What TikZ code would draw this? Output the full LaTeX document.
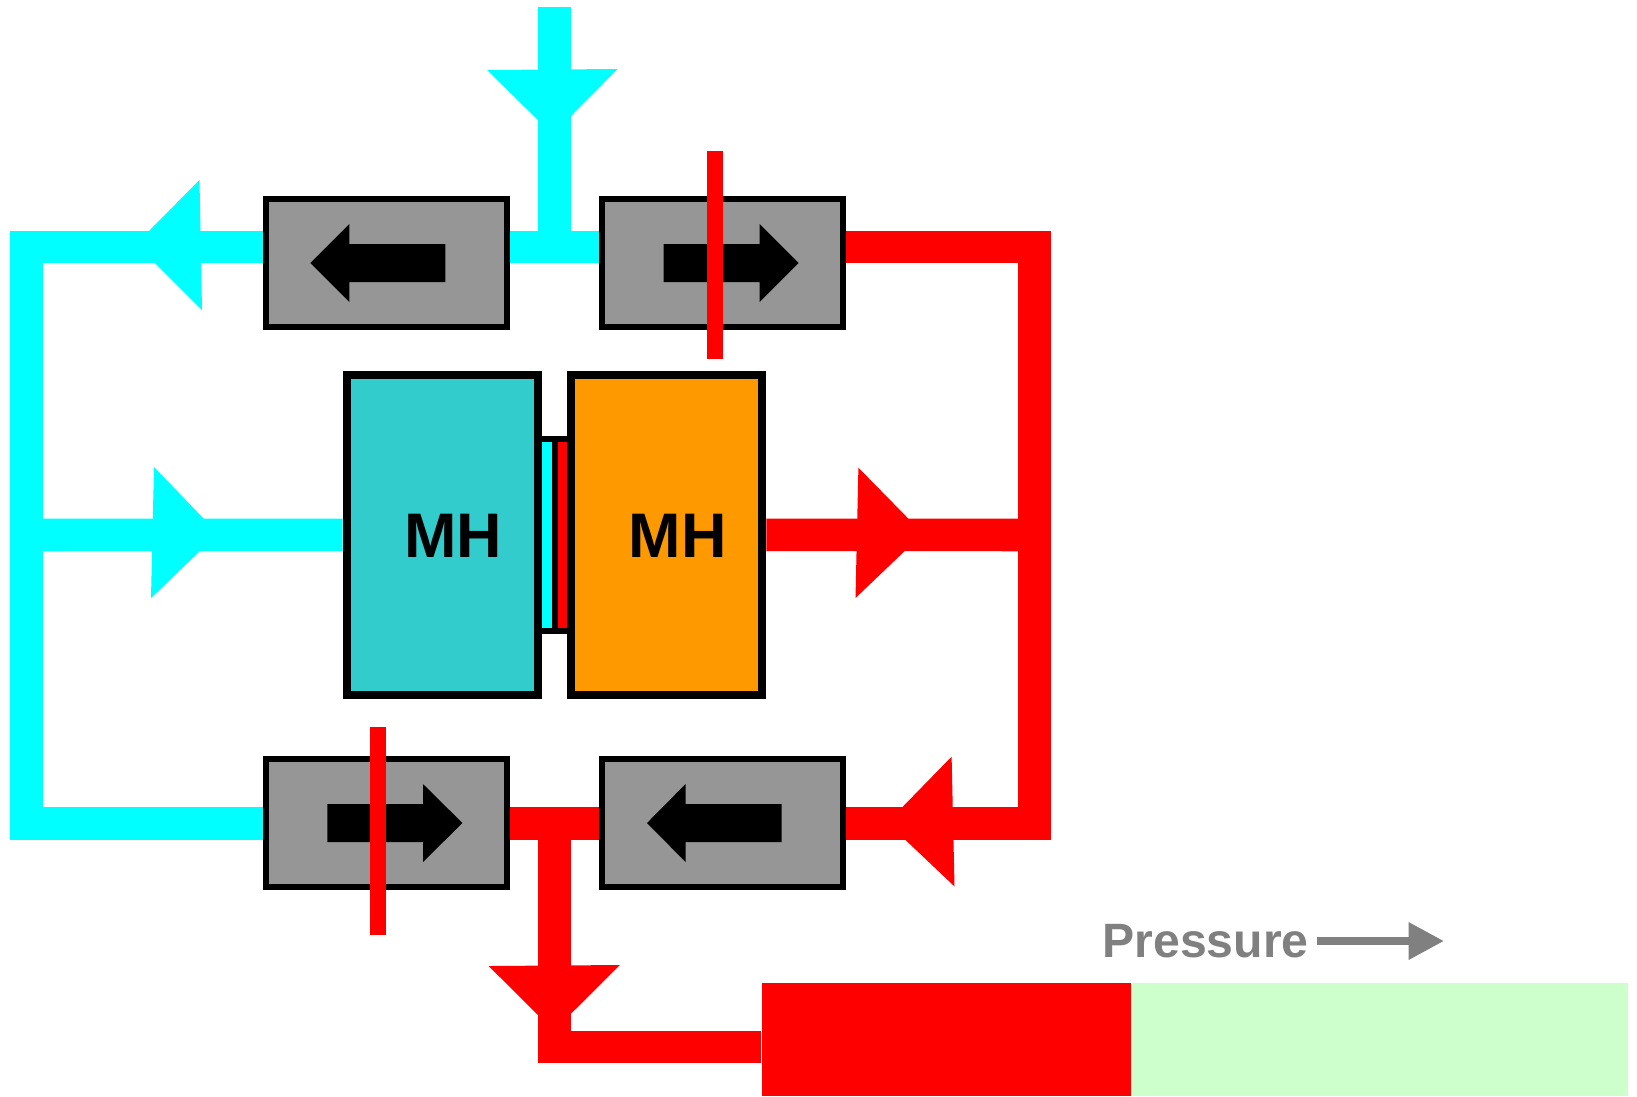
\documentclass[tikz,border=0pt]{standalone}
\usepackage{fontspec}
\setmainfont{Liberation Sans}
\usetikzlibrary{arrows.meta}
\definecolor{pipeCyan}{RGB}{0,255,255}
\definecolor{mhTeal}{HTML}{33CCCC}
\definecolor{mhOrange}{HTML}{FF9900}
\definecolor{valveGray}{HTML}{969696}
\definecolor{scaleGreen}{HTML}{CCFFCC}
\definecolor{pressGray}{HTML}{808080}
\begin{document}
\begin{tikzpicture}[x=0.01cm,y=-0.01cm,
    mhValve/.style={draw=black,fill=valveGray,line width=0.06cm,minimum width=2.404cm,minimum height=1.28cm,inner sep=0pt},
    mhBed/.style={draw=black,line width=0.08cm,minimum width=1.916cm,minimum height=3.195cm,inner sep=0pt},
    mhLabel/.style={inner sep=0pt,font=\bfseries\fontsize{17.9pt}{20pt}\selectfont},
    mhCold/.style={pipeCyan,line width=0.325cm,miter limit=10},
    mhHot/.style={red,line width=0.325cm,miter limit=10},
    mhBar/.style={red,line width=0.16cm},
    mhPress/.style={pressGray,line width=0.08cm,-{Triangle[length=0.353cm,width=0.354cm]}},
]
\useasboundingbox (0,0) rectangle (1637,1096);
% Valves
\node[mhValve] (valveTL) at (386.3,263) {};
\node[mhValve] (valveTR) at (722.5,263) {};
\node[mhValve] (valveBL) at (386.3,823) {};
\node[mhValve] (valveBR) at (722.5,823) {};
% Membrane between the beds
\fill[black] (541,436) rectangle (567,634);
\fill[pipeCyan] (541,442) rectangle (551.7,628);
\fill[red] (557.7,442) rectangle (567,628);
% Metal hydride beds
\node[mhBed,fill=mhTeal] (bedCold) at (442.5,534.75) {};
\node[mhBed,fill=mhOrange] (bedHot) at (666.5,534.75) {};
\node[mhLabel] (labelCold) at (453.5,535.5) {MH};
\node[mhLabel] (labelHot) at (677.5,535.5) {MH};
% Corners of the pipes
\coordinate (coldIn) at (554.5,7);
\coordinate (coldTee) at (554.5,247);
\coordinate (coldTL) at (26.4,247);
\coordinate (coldBL) at (26.4,823.5);
\coordinate (coldMid) at (26.4,535);
\coordinate (hotTR) at (1034.5,247);
\coordinate (hotBR) at (1034.5,823.5);
\coordinate (hotMid) at (1034.5,535);
\coordinate (hotTee) at (554.5,823.5);
\coordinate (hotLow) at (554.5,1047);
% Cold side
\draw[mhCold] (valveTL.east |- coldTee) -- (valveTR.west |- coldTee);
\draw[mhCold] (coldIn) -- (coldTee);
\draw[mhCold] (valveTL.west |- coldTL) -- (coldTL) -- (coldBL) -- (valveBL.west |- coldBL);
\draw[mhCold] (bedCold.west) -- (coldMid);
% Hot side
\draw[mhHot] (valveTR.east |- hotTR) -- (hotTR) -- (hotBR) -- (valveBR.east |- hotBR);
\draw[mhHot] (bedHot.east) -- (hotMid);
\draw[mhHot] (valveBL.east |- hotTee) -- (valveBR.west |- hotTee);
% Flow arrows
\fill[pipeCyan] (487,70) -- (617.6,69) -- (571,116) -- (538,120) -- cycle;
\fill[pipeCyan] (199.5,180) -- (202,310) -- (154,262) -- (149,231) -- cycle;
\fill[pipeCyan] (154,467) -- (151,598) -- (200,551) -- (204,519) -- cycle;
\fill[red] (858.4,467.7) -- (855.5,598) -- (904.7,551) -- (908.7,519) -- cycle;
\fill[red] (951.6,756.6) -- (954.5,886.4) -- (905,839.5) -- (902,807.5) -- cycle;
% Arrows inside the valves
\fill[black] (310.4,263) -- (349.4,224) -- (349.4,244) -- (445.4,244) -- (445.4,282) -- (349.4,282) -- (349.4,302) -- cycle;
\fill[black] (798.6,263) -- (759.6,224) -- (759.6,244) -- (663.7,244) -- (663.7,282) -- (759.6,282) -- (759.6,302) -- cycle;
\fill[black] (462.4,823) -- (423,784) -- (423,804) -- (327.4,804) -- (327.4,842) -- (423,842) -- (423,862) -- cycle;
\fill[black] (647,823) -- (685.6,784) -- (685.6,804) -- (781.6,804) -- (781.6,842) -- (685.6,842) -- (685.6,862) -- cycle;
% Closed valves
\draw[mhBar] (714.5,151) -- (714.5,359);
\draw[mhBar] (378.4,727) -- (378.4,935);
% Pressure scale
\fill[scaleGreen] (1130.7,983) rectangle (1628,1096);
\node[fill=red,inner sep=0pt,minimum width=3.687cm,minimum height=1.13cm] (scaleHot) at (946.35,1039.5) {};
\draw[mhHot] (hotTee) -- (hotLow) -- (scaleHot.west |- hotLow);
\fill[red] (488.7,966) -- (619.8,965) -- (571,1013.7) -- (538,1015) -- cycle;
\node[inner sep=0pt,text=pressGray,font=\bfseries\fontsize{13.7pt}{16pt}\selectfont] (pressLabel) at (1205.5,941) {Pressure};
\coordinate (pressTip) at (1444,941);
\draw[mhPress] ([xshift=0.08cm]pressLabel.east) -- (pressTip);
\end{tikzpicture}
\end{document}
